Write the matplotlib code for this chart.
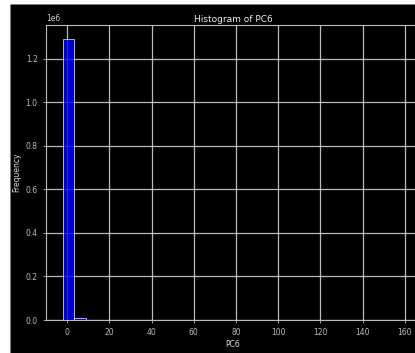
import matplotlib
matplotlib.use("Agg")
import matplotlib.pyplot as plt
import numpy as np

# histogram of PC6: 30 bins, counts per bin
bin_lo = -1.95
bin_hi = 159.1
counts = [1290000, 8000] + [0] * 28

edges = np.linspace(bin_lo, bin_hi, len(counts) + 1)
centers = (edges[:-1] + edges[1:]) / 2

plt.style.use("dark_background")
fig = plt.figure(figsize=(4.15, 3.53), dpi=100, facecolor="white")

# dark canvas panel, slightly inset from the left and top edges
bg = fig.add_axes([10 / 415, 0, 1, 1 - 4 / 353], zorder=-1)
bg.set_facecolor("black")
bg.set_xticks([])
bg.set_yticks([])
for side in bg.spines.values():
    side.set_color("#999999")
    side.set_linewidth(0.6)

ax = fig.add_axes([46 / 415, 33 / 353, 2 * (233 - 46) / 415, 295 / 353])
ax.set_facecolor("black")

ax.hist(centers, bins=edges, weights=counts, color="blue", alpha=0.8,
        edgecolor="white", linewidth=0.6, zorder=3)

ax.grid(True, color="#d0d0d0", linewidth=0.9, alpha=0.9)
ax.set_axisbelow(True)
ax.set_xticks(np.arange(0, 161, 20))
ax.tick_params(labelsize=5.5, colors="#bbbbbb", length=2.5, width=0.6)
for side in ax.spines.values():
    side.set_color("#bbbbbb")
    side.set_linewidth(0.8)
ax.yaxis.get_offset_text().set_fontsize(5.5)
ax.yaxis.get_offset_text().set_color("#cccccc")

ax.set_title("Histogram of PC6", fontsize=6.5, color="#eeeeee", pad=2)
ax.set_xlabel("PC6", fontsize=5.5, color="#dddddd", labelpad=2)
ax.set_ylabel("Frequency", fontsize=5.5, color="#dddddd", labelpad=3)

fig.savefig("out.png", dpi=100, facecolor=fig.get_facecolor())
